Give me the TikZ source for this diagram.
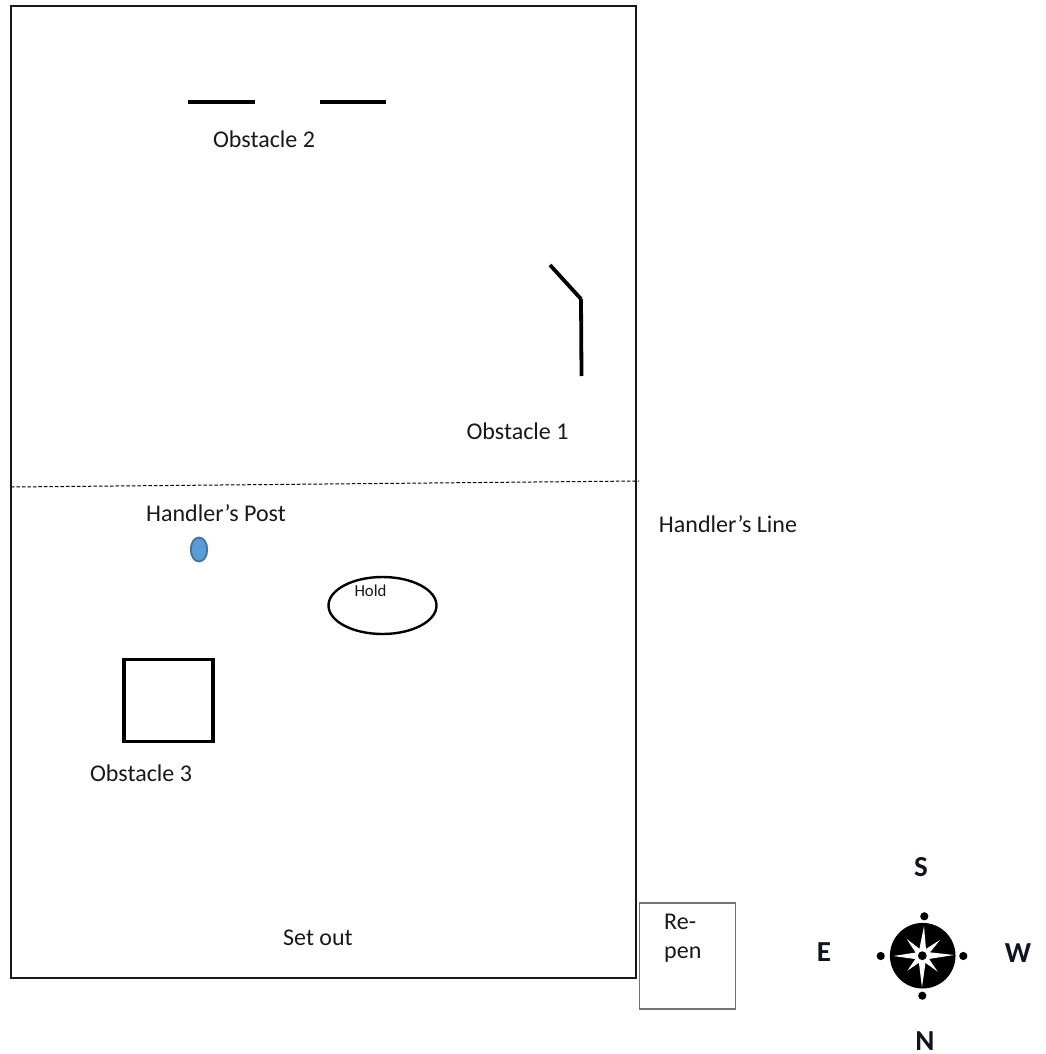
\documentclass[tikz,border=0pt]{standalone}
\usepackage{fontspec}
\usetikzlibrary{shapes.geometric}
\setmainfont{Carlito}
\definecolor{postfill}{HTML}{5B9BD5}
\definecolor{postline}{HTML}{41719C}
\definecolor{dirtext}{HTML}{0E1420}
\tikzset{
  lbl/.style={inner sep=0pt,font=\fontsize{24pt}{28.5pt}\selectfont,text=black!90},
  smalllbl/.style={inner sep=0pt,font=\fontsize{16.8pt}{20pt}\selectfont,text=black!90},
  dirlbl/.style={inner sep=0pt,font=\fontsize{29pt}{32pt}\selectfont\bfseries,text=dirtext},
  wall/.style={line width=3.8pt,black},
  dot/.style={circle,fill=black,inner sep=0pt,minimum size=8.2pt},
  spike/.style={fill=white}
}
\begin{document}
\begin{tikzpicture}[x=1pt,y=-1pt,line join=miter]
\useasboundingbox (0,0) rectangle (1045,1054);
\fill[white] (0,0) rectangle (1045,1054);
% ring
\draw[line width=1.8pt,black!90] (11,6) rectangle (636,978);
\coordinate (hl) at (11,487); \coordinate (hr) at (639,481);
\draw[line width=1pt,black,dash pattern=on 3.5pt off 2pt] (hl) -- (hr);
% obstacle 2
\coordinate (a1) at (188,102); \coordinate (a2) at (255,102);
\coordinate (b1) at (320,102); \coordinate (b2) at (386,102);
\draw[wall] (a1) -- (a2);
\draw[wall] (b1) -- (b2);
\node[lbl] (o2) at (264,139) {Obstacle 2};
% obstacle 1
\coordinate (c1) at (550,265); \coordinate (c2) at (581,299); \coordinate (c3) at (581.5,376);
\draw[wall] (c1) -- (c2);
\draw[wall] (c2) -- (c3);
\node[lbl] (o1) at (517.5,431) {Obstacle 1};
% handler
\node[lbl] (hp) at (216,513) {Handler’s Post};
\node[lbl] (hline) at (728,524) {Handler’s Line};
\node[ellipse,draw=postline,fill=postfill,line width=1.8pt,minimum width=16.5pt,minimum height=24pt,inner sep=0pt] (post) at (199,549.5) {};
% hold
\node[ellipse,draw,line width=2.4pt,minimum width=108pt,minimum height=57pt,inner sep=0pt] (holdring) at (382.5,605.5) {};
\node[smalllbl] (hold) at (370.5,591) {Hold};
% obstacle 3
\node[draw,line width=3.6pt,minimum width=89pt,minimum height=82pt,inner sep=0pt] (o3box) at (168.5,700.5) {};
\node[lbl] (o3) at (141,773) {Obstacle 3};
\node[lbl] (setout) at (318,937.5) {Set out};
% re-pen
\node[draw=black!55,line width=1.2pt,minimum width=96pt,minimum height=106pt,inner sep=0pt] (repen) at (687.5,956) {};
\node[lbl,align=left,anchor=north west] (re) at (664,914) {Re-\\pen};
% compass
\fill[black] (922.7,955.7) circle (32.8);
\coordinate (cc) at (922.3,955.7);
\fill[spike] (924,926) -- (926.5,955.7) -- (922,987.3) -- (918,955.7) -- cycle;
\fill[spike] (893.3,956) -- (922.3,951.5) -- (954,955) -- (922.3,960) -- cycle;
\fill[spike] (906.7,939) -- (925,953) -- (937.7,971.7) -- (919.5,958.5) -- cycle;
\fill[spike] (940,940) -- (925,958.5) -- (907.3,970.7) -- (919.5,953) -- cycle;
\fill[white] (cc) circle (6.2);
\fill[black] (cc) circle (4.4);
\node[dot] (dt) at (924.3,916.3) {};
\node[dot] (db) at (922.3,995.7) {};
\node[dot] (dl) at (880.7,956) {};
\node[dot] (dr) at (963.3,956) {};
\node[dirlbl] (S) at (921,867) {S};
\node[dirlbl] (E) at (824,952) {E};
\node[dirlbl] (W) at (1018,953) {W};
\node[dirlbl] (N) at (925,1041) {N};
\end{tikzpicture}
\end{document}
